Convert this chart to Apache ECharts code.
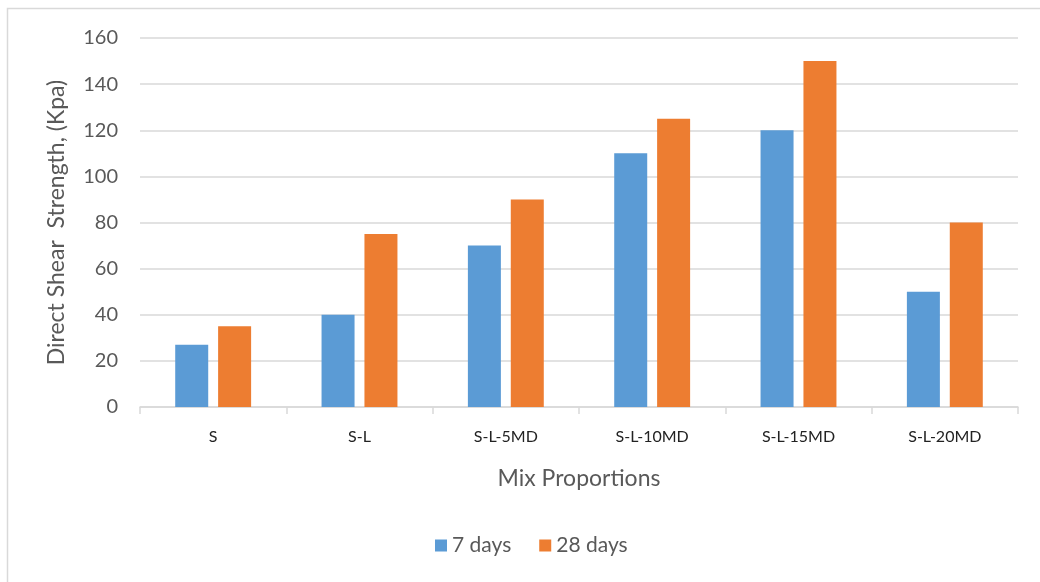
<!DOCTYPE html>
<html>
<head>
<meta charset="utf-8">
<script src="https://cdn.jsdelivr.net/npm/echarts@6/dist/echarts.min.js"></script>
<style>
  html, body { margin: 0; padding: 0; background: #fff; }
  #chart { width: 1040px; height: 582px; }
</style>
</head>
<body>
<div id="chart"></div>
<script>
const categories = ['S', 'S-L', 'S-L-5MD', 'S-L-10MD', 'S-L-15MD', 'S-L-20MD'];
const days7 = [27, 40, 70, 110, 120, 50];
const days28 = [35, 75, 90, 125, 150, 80];
const yTicks = { min: 0, max: 160, interval: 20 };

const chart = echarts.init(document.getElementById('chart'));
const font = 'Lato, "Open Sans", sans-serif';

const option = {
  animation: false,
  textStyle: { fontFamily: font },
  graphic: [
    {
      type: 'rect',
      shape: { x: 7.5, y: 8.5, width: 1040, height: 600 },
      style: { fill: 'none', stroke: '#d9d9d9', lineWidth: 1.5 },
      silent: true
    }
  ],
  grid: { left: 140, right: 22, top: 38, bottom: 175, containLabel: false },
  legend: {
    data: ['7 days', '28 days'],
    bottom: 21,
    left: 430,
    itemWidth: 12,
    itemHeight: 12,
    itemGap: 28,
    icon: 'rect',
    textStyle: { color: '#595959', fontSize: 21, fontFamily: font }
  },
  xAxis: {
    type: 'category',
    data: categories,
    name: 'Mix Proportions',
    nameLocation: 'middle',
    nameGap: 60,
    nameTextStyle: { color: '#595959', fontSize: 23, fontFamily: font },
    axisLine: { lineStyle: { color: '#d9d9d9', width: 1.5 } },
    axisTick: { show: true, length: 7, lineStyle: { color: '#d9d9d9', width: 1.5 } },
    axisLabel: { color: '#222', fontSize: 16, margin: 22, fontFamily: font }
  },
  yAxis: {
    type: 'value',
    min: yTicks.min,
    max: yTicks.max,
    interval: yTicks.interval,
    name: 'Direct Shear  Strength, (Kpa)',
    nameLocation: 'middle',
    nameGap: 72,
    nameTextStyle: { color: '#595959', fontSize: 23, fontFamily: font },
    axisLine: { show: false },
    axisTick: { show: false },
    splitLine: { lineStyle: { color: '#d9d9d9', width: 1.5 } },
    axisLabel: { color: '#595959', fontSize: 20, margin: 22, fontFamily: font }
  },
  series: [
    {
      name: '7 days',
      type: 'bar',
      data: days7,
      barWidth: 33,
      barGap: '30%',
      itemStyle: { color: '#5b9bd5' }
    },
    {
      name: '28 days',
      type: 'bar',
      data: days28,
      barWidth: 33,
      barGap: '30%',
      itemStyle: { color: '#ed7d31' }
    }
  ]
};

chart.setOption(option);
</script>
</body>
</html>
